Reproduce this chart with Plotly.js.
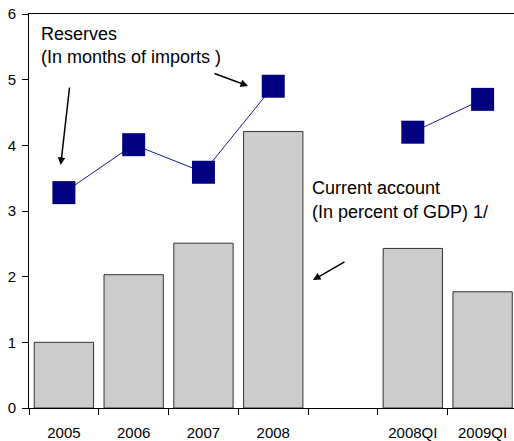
<!DOCTYPE html>
<html>
<head>
<meta charset="utf-8">
<script src="https://cdn.plot.ly/plotly-3.0.1.min.js"></script>
<style>html,body{margin:0;padding:0;background:#fff;}#chart{width:514px;height:441px;}</style>
</head>
<body>
<div id="chart"></div>
<script>
const categories = ["2005", "2006", "2007", "2008", " ", "2008QI", "2009QI"];
const currentAccount = [1.00, 2.03, 2.51, 4.21, null, 2.43, 1.77];
const reserves = [3.28, 4.01, 3.59, 4.90, null, 4.20, 4.70];
const yTicks = [0, 1, 2, 3, 4, 5, 6];

const W = 514, H = 441;
const L = 29, T = 14, B = 33, R = 0;
const pw = W - L - R, ph = H - T - B;
const px = x => (x - L) / pw;
const py = y => (H - B - y) / ph;
const font = {family: "Liberation Sans, Arial, sans-serif", size: 18, color: "#000"};

const data = [
  {
    type: "bar", x: categories, y: currentAccount,
    marker: {color: "#cccccc", line: {color: "#333333", width: 1}},
    hoverinfo: "skip"
  },
  {
    type: "scatter", mode: "lines+markers", x: categories, y: reserves,
    connectgaps: false,
    line: {color: "#1a1a99", width: 1},
    marker: {symbol: "square", size: 23, color: "#000080"},
    hoverinfo: "skip"
  }
];

const layout = {
  width: W, height: H,
  margin: {l: L, r: R, t: T, b: B, pad: 0},
  paper_bgcolor: "#fff", plot_bgcolor: "#fff",
  showlegend: false,
  bargap: 0.15,
  font: {family: "Liberation Sans, Arial, sans-serif", size: 15, color: "#000"},
  xaxis: {
    type: "category", range: [-0.5, 6.45],
    showline: true, linecolor: "#000", linewidth: 1, mirror: true,
    ticks: "outside", tickson: "boundaries", ticklen: 6, tickcolor: "#000",
    ticklabelstandoff: 11,
    showgrid: false, zeroline: false, fixedrange: true,
    tickfont: {size: 15}
  },
  yaxis: {
    range: [0, 6], tickvals: yTicks,
    showline: true, linecolor: "#000", linewidth: 1,
    ticks: "outside", ticklen: 6, tickcolor: "#000",
    ticklabelstandoff: 3,
    showgrid: false, zeroline: false, fixedrange: true,
    tickfont: {size: 15}
  },
  annotations: [
    {xref: "paper", yref: "paper", x: px(39), y: py(34), xanchor: "left", yanchor: "middle",
     text: "Reserves", showarrow: false, font: font},
    {xref: "paper", yref: "paper", x: px(39), y: py(57), xanchor: "left", yanchor: "middle",
     text: "(In months of imports )", showarrow: false, font: font},
    {xref: "paper", yref: "paper", x: px(310), y: py(188), xanchor: "left", yanchor: "middle",
     text: "Current account", showarrow: false, font: font},
    {xref: "paper", yref: "paper", x: px(310), y: py(212), xanchor: "left", yanchor: "middle",
     text: "(In percent of GDP) 1/", showarrow: false, font: font},
    {xref: "paper", yref: "paper", x: px(60.7), y: py(165), ax: 9, ay: -79, text: "",
     showarrow: true, arrowhead: 2, arrowsize: 1, arrowwidth: 1.5, arrowcolor: "#000", standoff: 0},
    {xref: "paper", yref: "paper", x: px(248), y: py(86), ax: -35, ay: -13, text: "",
     showarrow: true, arrowhead: 2, arrowsize: 1, arrowwidth: 1.5, arrowcolor: "#000", standoff: 0},
    {xref: "paper", yref: "paper", x: px(313), y: py(280), ax: 33, ay: -19, text: "",
     showarrow: true, arrowhead: 2, arrowsize: 1, arrowwidth: 1.5, arrowcolor: "#000", standoff: 0}
  ]
};

Plotly.newPlot("chart", data, layout, {staticPlot: true, displayModeBar: false});
</script>
</body>
</html>
